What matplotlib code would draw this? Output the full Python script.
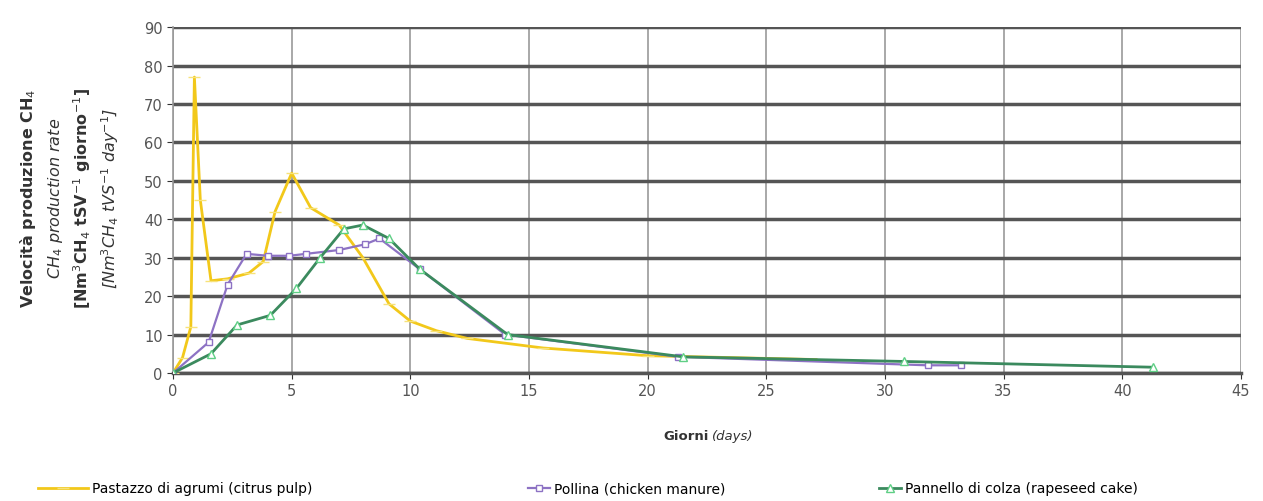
import matplotlib.pyplot as plt

# --- dati ---
citrus_x = [0, 0.4, 0.75, 0.9, 1.15, 1.6, 2.3, 3.2, 3.8, 4.3, 5.0, 5.8, 7.0, 8.0, 9.1, 10.0, 11.1, 12.4, 15.6, 20.0, 27.1]
citrus_y = [0, 4, 12, 77, 45, 24, 24.5, 26, 29, 42, 52, 43, 38.5, 30, 18, 13.5, 11, 9, 6.5, 4.5, 3.5]

chicken_x = [0, 1.5, 2.3, 3.1, 4.0, 4.9, 5.6, 7.0, 8.1, 8.7, 10.4, 14.0, 21.3, 31.8, 33.2]
chicken_y = [0, 8, 23, 31, 30.5, 30.5, 31, 32, 33.5, 35, 27, 10, 4.2, 2, 2]

rapeseed_x = [0, 1.6, 2.7, 4.1, 5.2, 6.2, 7.2, 8.0, 9.1, 10.4, 14.1, 21.5, 30.8, 41.3]
rapeseed_y = [0, 5, 12.5, 15, 22, 30, 37.5, 38.5, 35, 27, 10, 4.2, 3, 1.5]

labels = ["Pastazzo di agrumi (citrus pulp)",
          "Pollina (chicken manure)",
          "Pannello di colza (rapeseed cake)"]

fig = plt.figure(figsize=(12.63, 5.02), dpi=100)
ax = fig.add_axes([0.137, 0.255, 0.8455, 0.689])

l1, = ax.plot(citrus_x, citrus_y, color="#f2c81a", lw=2, marker="_", ms=8,
              mec="#f7e27a", zorder=3)
l2, = ax.plot(chicken_x, chicken_y, color="#8d72c4", lw=1.6, marker="s", ms=5,
              mfc="white", mec="#8d72c4", zorder=4)
l3, = ax.plot(rapeseed_x, rapeseed_y, color="#3b8a5e", lw=2, marker="^", ms=6,
              mfc="white", mec="#5fcf85", zorder=5)

ax.set_xlim(0, 45)
ax.set_ylim(0, 90)
ax.set_xticks(range(0, 46, 5))
ax.set_yticks(range(0, 91, 10))
ax.tick_params(labelsize=10.5, colors="#333333", length=4)
for lab in ax.get_xticklabels() + ax.get_yticklabels():
    lab.set_color("#555555")

ax.yaxis.grid(True, color="#555555", lw=2.5)
ax.xaxis.grid(True, color="#999999", lw=1.2)
ax.set_axisbelow(True)
for s in ["top", "right"]:
    ax.spines[s].set_visible(False)
ax.spines["left"].set_color("#999999")
ax.spines["left"].set_linewidth(1.2)
ax.spines["bottom"].set_color("#555555")
ax.spines["bottom"].set_linewidth(2.5)

# etichetta asse y su quattro righe
ylab = [("Velocità produzione CH$_4$", "bold", "normal", 0.022),
        ("CH$_4$ production rate", "normal", "italic", 0.044),
        ("[Nm$^3$CH$_4$ tSV$^{-1}$ giorno$^{-1}$]", "bold", "normal", 0.065),
        ("[Nm$^3$CH$_4$ tVS$^{-1}$ day$^{-1}$]", "normal", "italic", 0.087)]
for txt, w, st, xf in ylab:
    fig.text(xf, 0.605, txt, rotation=90, ha="center", va="center",
             fontsize=11.5, fontweight=w, fontstyle=st, color="#333333")

fig.text(0.561, 0.13, "Giorni", ha="right", va="center", fontsize=9.5,
         fontweight="bold", color="#333333")
fig.text(0.564, 0.13, "(days)", ha="left", va="center", fontsize=9.5,
         fontstyle="italic", color="#333333")

# legenda: tre voci separate come nell'originale
for h, lab, xl, hl in [(l1, labels[0], 0.03, 3.6), (l2, labels[1], 0.418, 1.6),
                       (l3, labels[2], 0.696, 1.6)]:
    fig.legend([h], [lab], loc="center left", bbox_to_anchor=(xl, 0.025),
               frameon=False, fontsize=10, handlelength=hl,
               handletextpad=0.3, borderaxespad=0, borderpad=0)

fig.savefig("out.png", dpi=100)
